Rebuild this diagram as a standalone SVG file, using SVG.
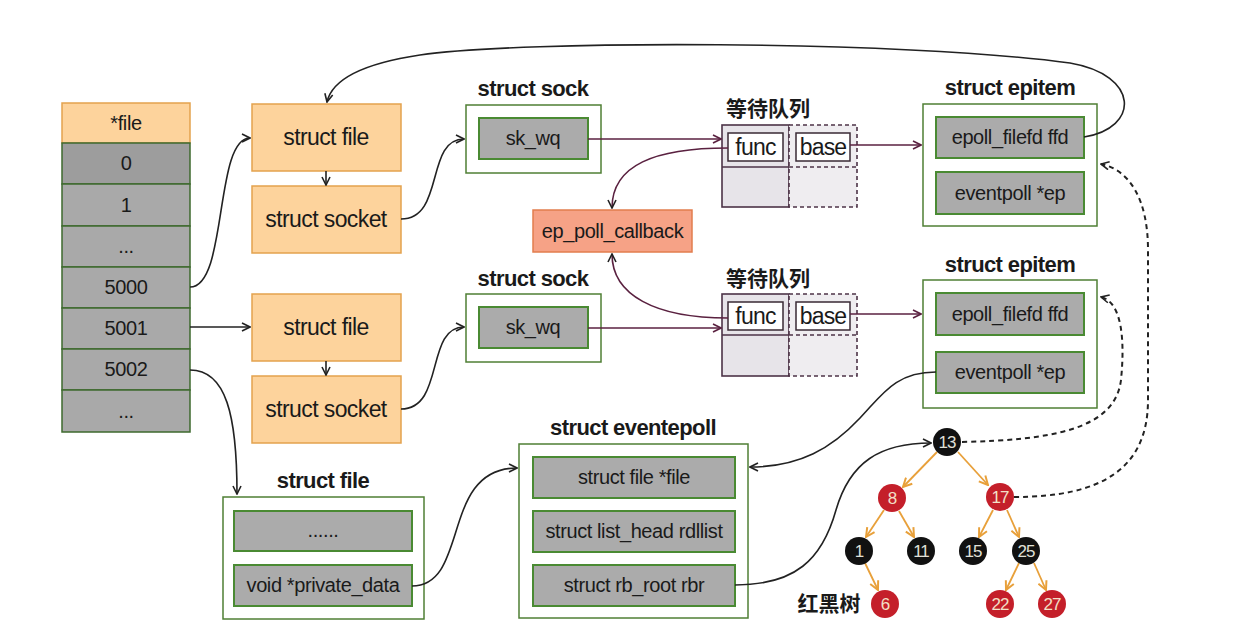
<svg xmlns="http://www.w3.org/2000/svg" width="1247" height="641" viewBox="0 0 1247 641">
<defs>
<style>
text{font-family:"Liberation Sans","Noto Sans CJK SC",sans-serif;fill:#1a1a1a;text-anchor:middle}
.t20{font-size:20px;letter-spacing:-0.4px}
.t22{font-size:23px;letter-spacing:-0.6px}
.title{font-size:22px;font-weight:bold;letter-spacing:-0.6px}
.cjk{font-family:"Noto Sans CJK SC",sans-serif;font-size:21px;font-weight:bold}
.orange{fill:#fdd39c;stroke:#e3a24e;stroke-width:1.5}
.cell{fill:#a9a9a9;stroke:#3e6a2e;stroke-width:1.5}
.cont{fill:#ffffff;stroke:#4f7f34;stroke-width:1.5}
.field{fill:#ababab;stroke:#4a8a33;stroke-width:2}
.qsolid{fill:#e7e4e9;stroke:#4d3347;stroke-width:1.6}
.qdash{fill:#efedf0;stroke:#4d3347;stroke-width:1.6;stroke-dasharray:4 3}
.qbox{fill:#ffffff;stroke:#3a2a35;stroke-width:1.5}
.cb{fill:#f6a286;stroke:#e27d4e;stroke-width:1.5}
.ln{fill:none;stroke:#222;stroke-width:1.6}
.mr{fill:none;stroke:#5a2140;stroke-width:1.6}
.dash{fill:none;stroke:#222;stroke-width:2;stroke-dasharray:5 4}
.te{fill:none;stroke:#e8a03a;stroke-width:1.8}
.rn{fill:#c41f2a}
.bn{fill:#111111}
.nt{font-size:17px;fill:#f3e0c8;letter-spacing:-1px}
.btxt{font-size:17px;fill:#e0e0d8;letter-spacing:-1px}
</style>
<marker id="a" viewBox="0 0 10 10" refX="9" refY="5" markerWidth="10" markerHeight="10" markerUnits="userSpaceOnUse" orient="auto"><path d="M1,1 L9,5 L1,9" fill="none" stroke="#222" stroke-width="1.6"/></marker>
<marker id="am" viewBox="0 0 10 10" refX="9" refY="5" markerWidth="10" markerHeight="10" markerUnits="userSpaceOnUse" orient="auto"><path d="M1,1 L9,5 L1,9" fill="none" stroke="#5a2140" stroke-width="1.6"/></marker>
<marker id="ao" viewBox="0 0 10 10" refX="9" refY="5" markerWidth="11" markerHeight="11" markerUnits="userSpaceOnUse" orient="auto"><path d="M1,1 L9,5 L1,9" fill="none" stroke="#e8a03a" stroke-width="1.8"/></marker>
</defs>
<rect width="1247" height="641" fill="#ffffff"/>

<g id="fdarray">
<rect class="orange" x="62" y="103" width="128" height="40"/>
<text class="t20" x="126" y="130">*file</text>
<rect class="cell" x="62" y="143" width="128" height="41" style="fill:#9d9d9d"/>
<text class="t20" x="126" y="170">0</text>
<rect class="cell" x="62" y="184" width="128" height="42"/>
<text class="t20" x="126" y="212">1</text>
<rect class="cell" x="62" y="226" width="128" height="41"/>
<text class="t20" x="126" y="253">...</text>
<rect class="cell" x="62" y="267" width="128" height="41"/>
<text class="t20" x="126" y="294">5000</text>
<rect class="cell" x="62" y="308" width="128" height="41"/>
<text class="t20" x="126" y="335">5001</text>
<rect class="cell" x="62" y="349" width="128" height="41"/>
<text class="t20" x="126" y="376">5002</text>
<rect class="cell" x="62" y="390" width="128" height="42"/>
<text class="t20" x="126" y="418">...</text>
</g>

<g id="file1"><rect class="orange" x="252" y="104" width="149" height="67"/><text class="t22" x="326" y="145">struct file</text></g>
<g id="socket1"><rect class="orange" x="252" y="186" width="149" height="67"/><text class="t22" x="326" y="227">struct socket</text></g>
<g id="file2"><rect class="orange" x="252" y="294" width="149" height="67"/><text class="t22" x="326" y="335">struct file</text></g>
<g id="socket2"><rect class="orange" x="252" y="376" width="149" height="67"/><text class="t22" x="326" y="417">struct socket</text></g>

<g id="sock1">
<text class="title" x="533" y="96">struct sock</text>
<rect class="cont" x="466" y="105" width="135" height="68"/>
<rect class="field" x="479" y="118" width="109" height="41"/>
<text class="t20" x="533" y="145">sk_wq</text>
</g>
<g id="sock2">
<text class="title" x="533" y="286">struct sock</text>
<rect class="cont" x="466" y="294" width="135" height="68"/>
<rect class="field" x="479" y="307" width="109" height="41"/>
<text class="t20" x="533" y="334">sk_wq</text>
</g>

<g id="queue1">
<text class="cjk" x="768" y="116">等待队列</text>
<rect class="qsolid" x="722" y="125" width="67" height="82"/>
<rect class="qdash" x="789" y="125" width="68" height="82"/>
<line x1="722" y1="167" x2="789" y2="167" stroke="#4d3347" stroke-width="1.6"/>
<line x1="789" y1="167" x2="857" y2="167" stroke="#4d3347" stroke-width="1.6" stroke-dasharray="4 3"/>
<rect class="qbox" x="728" y="133" width="55" height="28"/>
<text class="t22" x="755.5" y="155" style="letter-spacing:-0.8px">func</text>
<rect class="qbox" x="796" y="133" width="54" height="28"/>
<text class="t22" x="823" y="155" style="letter-spacing:-0.8px">base</text>
</g>
<g id="queue2">
<text class="cjk" x="768" y="286">等待队列</text>
<rect class="qsolid" x="722" y="294" width="67" height="82"/>
<rect class="qdash" x="789" y="294" width="68" height="82"/>
<line x1="722" y1="335" x2="789" y2="335" stroke="#4d3347" stroke-width="1.6"/>
<line x1="789" y1="335" x2="857" y2="335" stroke="#4d3347" stroke-width="1.6" stroke-dasharray="4 3"/>
<rect class="qbox" x="728" y="302" width="55" height="28"/>
<text class="t22" x="755.5" y="324" style="letter-spacing:-0.8px">func</text>
<rect class="qbox" x="796" y="302" width="54" height="28"/>
<text class="t22" x="823" y="324" style="letter-spacing:-0.8px">base</text>
</g>

<g id="callback"><rect class="cb" x="533" y="210" width="159" height="42"/><text class="t20" x="612.5" y="238">ep_poll_callback</text></g>

<g id="epitem1">
<text class="title" x="1010" y="95">struct epitem</text>
<rect class="cont" x="923" y="104" width="174" height="122"/>
<rect class="field" x="936" y="117" width="148" height="41"/>
<text class="t20" x="1010" y="144">epoll_filefd ffd</text>
<rect class="field" x="936" y="172" width="148" height="42"/>
<text class="t20" x="1010" y="200">eventpoll *ep</text>
</g>
<g id="epitem2">
<text class="title" x="1010" y="272">struct epitem</text>
<rect class="cont" x="923" y="280" width="174" height="128"/>
<rect class="field" x="936" y="293" width="148" height="42"/>
<text class="t20" x="1010" y="321">epoll_filefd ffd</text>
<rect class="field" x="936" y="352" width="148" height="41"/>
<text class="t20" x="1010" y="379">eventpoll *ep</text>
</g>

<g id="file3">
<text class="title" x="323" y="488">struct file</text>
<rect class="cont" x="223" y="497" width="201" height="122"/>
<rect class="field" x="234" y="511" width="178" height="40"/>
<text class="t20" x="323" y="537">......</text>
<rect class="field" x="234" y="565" width="178" height="41"/>
<text class="t20" x="323" y="592">void *private_data</text>
</g>

<g id="eventepoll">
<text class="title" x="633" y="435">struct eventepoll</text>
<rect class="cont" x="519" y="444" width="229" height="174"/>
<rect class="field" x="533" y="457" width="202" height="41"/>
<text class="t20" x="634" y="484">struct file *file</text>
<rect class="field" x="533" y="511" width="202" height="41"/>
<text class="t20" x="634" y="538">struct list_head rdllist</text>
<rect class="field" x="533" y="565" width="202" height="41"/>
<text class="t20" x="634" y="592">struct rb_root rbr</text>
</g>

<g id="connectors">
<path class="ln" d="M190,287 C228,287 214,138 250,138" marker-end="url(#a)"/>
<path class="ln" d="M190,327 L250,327" marker-end="url(#a)"/>
<path class="ln" d="M190,370 C226,370 237,415 237,494" marker-end="url(#a)"/>
<path class="ln" d="M326,171 L326,185" marker-end="url(#a)"/>
<path class="ln" d="M326,361 L326,375" marker-end="url(#a)"/>
<path class="ln" d="M401,219 C445,219 425,139 464,139" marker-end="url(#a)"/>
<path class="ln" d="M401,409 C445,409 425,327 464,327" marker-end="url(#a)"/>
<path class="mr" d="M588,139 L721,139" marker-end="url(#am)"/>
<path class="mr" d="M588,328 L721,328" marker-end="url(#am)"/>
<path class="mr" d="M728,148 C655,148 612,165 612,208" marker-end="url(#a)"/>
<path class="mr" d="M728,318 C655,318 612,295 612,254" marker-end="url(#a)"/>
<path class="mr" d="M850,145 L921,145" marker-end="url(#am)"/>
<path class="mr" d="M850,314 L921,314" marker-end="url(#am)"/>
<path class="ln" d="M1084,137 C1140,128 1140,75 1070,63 C900,40 520,40 420,55 C360,64 332,80 327,102" marker-end="url(#a)"/>
<path class="ln" d="M936,372 C895,372 882,395 860,418 C832,448 800,467 750,467" marker-end="url(#a)"/>
<path class="ln" d="M412,586 C470,586 440,468 517,468" marker-end="url(#a)"/>
<path class="ln" d="M735,585 C795,585 822,560 836,510 C850,462 880,443 931,443" marker-end="url(#a)"/>
<path class="dash" d="M962,442 C1050,440 1115,430 1121,380 C1125,340 1122,302 1101,297" marker-end="url(#a)"/>
<path class="dash" d="M1014,497 C1100,497 1148,470 1148,400 L1148,250 C1148,200 1130,170 1101,164" marker-end="url(#a)"/>
<path class="te" d="M937,452 L903,487" marker-end="url(#ao)"/>
<path class="te" d="M958,452 L988,485" marker-end="url(#ao)"/>
<path class="te" d="M884,510 L866,537" marker-end="url(#ao)"/>
<path class="te" d="M899,511 L914,537" marker-end="url(#ao)"/>
<path class="te" d="M993,510 L979,537" marker-end="url(#ao)"/>
<path class="te" d="M1007,510 L1019,537" marker-end="url(#ao)"/>
<path class="te" d="M865,563 L878,590" marker-end="url(#ao)"/>
<path class="te" d="M1019,563 L1006,590" marker-end="url(#ao)"/>
<path class="te" d="M1034,563 L1046,590" marker-end="url(#ao)"/>
</g>

<g id="rbtree">
<g id="n13"><circle class="bn" cx="947" cy="442" r="14"/><text class="btxt" x="947" y="448">13</text></g>
<g id="n8"><circle class="rn" cx="892" cy="498" r="14"/><text class="nt" x="892" y="504">8</text></g>
<g id="n17"><circle class="rn" cx="1000" cy="497" r="14"/><text class="nt" x="1000" y="503">17</text></g>
<g id="n1"><circle class="bn" cx="859" cy="551" r="14"/><text class="btxt" x="859" y="557">1</text></g>
<g id="n11"><circle class="bn" cx="921" cy="551" r="14"/><text class="btxt" x="921" y="557">11</text></g>
<g id="n15"><circle class="bn" cx="973" cy="551" r="14"/><text class="btxt" x="973" y="557">15</text></g>
<g id="n25"><circle class="bn" cx="1026" cy="551" r="14"/><text class="btxt" x="1026" y="557">25</text></g>
<g id="n6"><circle class="rn" cx="885" cy="604" r="14"/><text class="nt" x="885" y="610">6</text></g>
<g id="n22"><circle class="rn" cx="1000" cy="604" r="14"/><text class="nt" x="1000" y="610">22</text></g>
<g id="n27"><circle class="rn" cx="1052" cy="604" r="14"/><text class="nt" x="1052" y="610">27</text></g>
<text class="cjk" x="829" y="611">红黑树</text>
</g>
</svg>
